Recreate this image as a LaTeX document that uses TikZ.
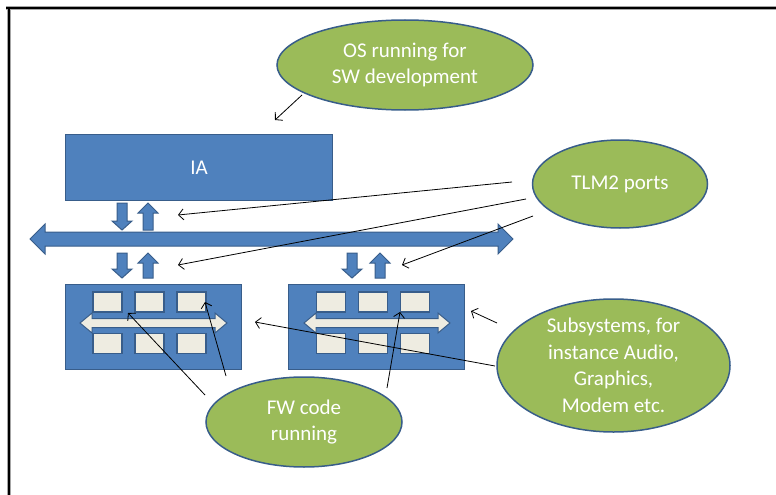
\documentclass[tikz,border=0pt]{standalone}
\usepackage{fontspec}
\setmainfont{Carlito}
\usetikzlibrary{arrows.meta,shapes.geometric}
\definecolor{boxblue}{HTML}{4F81BD}
\definecolor{edgeblue}{HTML}{385D8A}
\definecolor{leaf}{HTML}{9BBB59}
\definecolor{paper}{HTML}{EEECE1}

% vertical port arrows: x, tip y, tail y
\newcommand{\portdown}[3]{%
  \draw[port] (#1-5,#2) -- (#1+5,#2) -- (#1+5,#3-9) -- (#1+10,#3-9) -- (#1,#3)
    -- (#1-10,#3-9) -- (#1-5,#3-9) -- cycle;}
\newcommand{\portup}[3]{%
  \draw[port] (#1-5,#3) -- (#1+5,#3) -- (#1+5,#2+10) -- (#1+10,#2+10) -- (#1,#2)
    -- (#1-10,#2+10) -- (#1-5,#2+10) -- cycle;}
% cream double-headed arrow inside a subsystem: left tip, right tip, centre y
\newcommand{\innerbus}[3]{%
  \draw[lane] (#1,#3) -- (#1+12,#3-10) -- (#1+12,#3-4.5) -- (#2-12,#3-4.5)
    -- (#2-12,#3-10) -- (#2,#3) -- (#2-12,#3+10) -- (#2-12,#3+4.5)
    -- (#1+12,#3+4.5) -- (#1+12,#3+10) -- cycle;}

\begin{document}
\begin{tikzpicture}[x=1pt,y=-1pt,
  block/.style={draw=edgeblue, fill=boxblue, line width=1.3pt, inner sep=0pt},
  port/.style={draw=edgeblue, fill=boxblue, line width=1pt},
  lane/.style={draw=edgeblue, fill=paper, line width=1pt},
  chip/.style={draw=edgeblue, fill=paper, line width=1.4pt,
    minimum width=29pt, minimum height=20pt, inner sep=0pt},
  bubble/.style={ellipse, draw=edgeblue, fill=leaf, line width=1.5pt, inner sep=0pt},
  btext/.style={text=white, align=center, font=\fontsize{21}{26.5}\selectfont},
  pointer/.style={draw=black, line width=0.8pt,
    -{Straight Barb[length=5pt,width=11pt]}}]

\useasboundingbox (0,0) rectangle (776,495);

% page frame
\draw[gray!70, line width=4pt] (6,8.5) -- (776,8.5);
\draw[gray!70, line width=4pt] (8.5,8.5) -- (8.5,495);
\draw[black, line width=2pt] (6,8.5) -- (776,8.5);
\draw[black, line width=2pt] (8.5,8.5) -- (8.5,495);

% host processor
\node[block, minimum width=267pt, minimum height=66pt, anchor=north west,
  text=white, font=\fontsize{21}{26}\selectfont] (ia) at (65,134) {IA};

% system bus
\draw[port] (30,239) -- (45,224) -- (45,232) -- (498,232) -- (498,224)
  -- (513,239) -- (498,254) -- (498,246) -- (45,246) -- (45,254) -- cycle;

% ports between IA, bus and subsystems
\portdown{122}{203}{230}
\portup{148}{203}{230}
\portdown{122}{253}{278}
\portup{148}{253}{278}
\portdown{352}{253}{278}
\portup{380}{253}{278}

% subsystems
\node[block, minimum width=176pt, minimum height=85pt, anchor=north west] (subA) at (65,284) {};
\node[block, minimum width=176pt, minimum height=85pt, anchor=north west] (subB) at (288,284) {};

\innerbus{80}{227}{323}
\innerbus{304}{450}{323}

\foreach \cx/\nm in {107.5/a1, 149.5/a2, 191.5/a3}{
  \node[chip] (top\nm) at (\cx,302) {};
  \node[chip] (bot\nm) at (\cx,343.5) {};
}
\foreach \cx/\nm in {331/b1, 373/b2, 415/b3}{
  \node[chip] (top\nm) at (\cx,302) {};
  \node[chip] (bot\nm) at (\cx,343.5) {};
}

% callouts
\node[bubble, minimum width=256pt, minimum height=90pt,
  label={[btext]center:{OS running for\\SW development}}] (os) at (405,65) {};
\node[bubble, minimum width=175pt, minimum height=88pt,
  label={[btext]center:{TLM2 ports}}] (tlm) at (620,184) {};
\node[bubble, minimum width=233pt, minimum height=133pt,
  label={[btext]center:{Subsystems, for\\instance Audio,\\Graphics,\\Modem etc.}}] (sub) at (613.5,365.5) {};
\node[bubble, minimum width=196pt, minimum height=90pt,
  label={[btext]center:{FW code\\running}}] (fw) at (304,422) {};

% pointer ends
\coordinate (osFrom) at (302,95);
\coordinate (osTo) at (275,120);
\coordinate (tlmFromA) at (512,182);
\coordinate (tlmToA) at (178,215);
\coordinate (tlmFromB) at (526,199);
\coordinate (tlmToB) at (178,265);
\coordinate (tlmFromC) at (533,216);
\coordinate (tlmToC) at (402,265);
\coordinate (subFromA) at (497,323);
\coordinate (subToA) at (471,311);
\coordinate (subFromB) at (495,366);
\coordinate (subToB) at (255,322);
\coordinate (fwFromA) at (205,395);
\coordinate (fwToA) at (128,313);
\coordinate (fwFromB) at (226,376);
\coordinate (fwToB) at (205,302);
\coordinate (fwFromC) at (387,388);
\coordinate (fwToC) at (400,312);

\draw[pointer] (osFrom) -- (osTo);
\draw[pointer] (tlmFromA) -- (tlmToA);
\draw[pointer] (tlmFromB) -- (tlmToB);
\draw[pointer] (tlmFromC) -- (tlmToC);
\draw[pointer] (subFromA) -- (subToA);
\draw[pointer] (subFromB) -- (subToB);
\draw[pointer] (fwFromA) -- (fwToA);
\draw[pointer] (fwFromB) -- (fwToB);
\draw[pointer] (fwFromC) -- (fwToC);

\end{tikzpicture}
\end{document}
